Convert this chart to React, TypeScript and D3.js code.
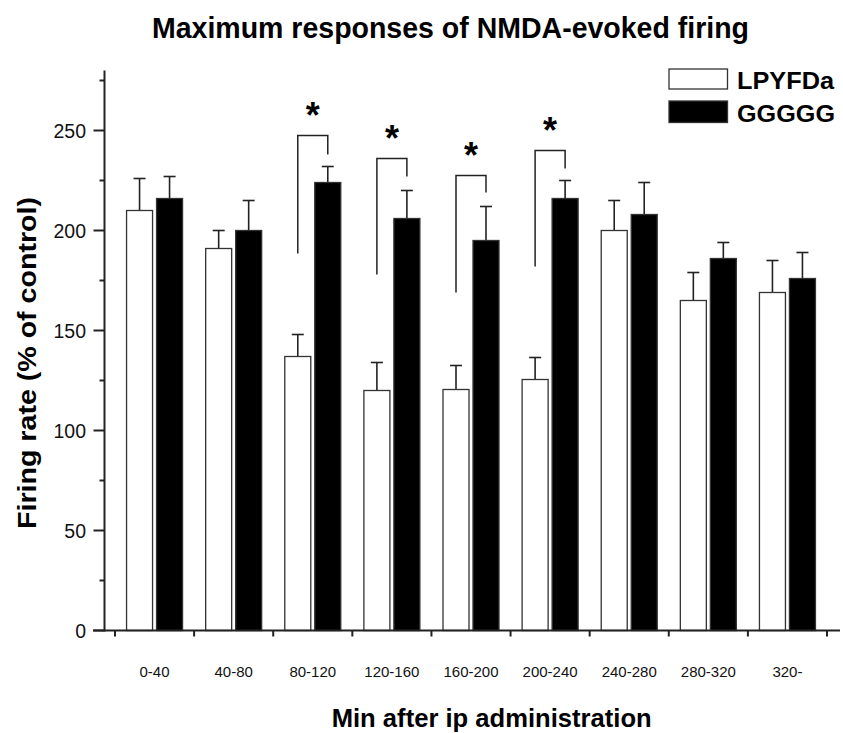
import React from "react";
import * as d3 from "d3";

// Time windows after ip administration (min)
const categories = ["0-40", "40-80", "80-120", "120-160", "160-200", "200-240", "240-280", "280-320", "320-"];
const seriesNames = ["LPYFDa", "GGGGG"];

// Mean firing rate (% of control) and SEM for each peptide
const lpyfdaMean = [210, 191, 137, 120, 120.5, 125.5, 200, 165, 169];
const lpyfdaSem = [16, 9, 11, 14, 12, 11, 15, 14, 16];
const gggggMean = [216, 200, 224, 206, 195, 216, 208, 186, 176];
const gggggSem = [11, 15, 8, 14, 17, 9, 16, 8, 13];

// Significance brackets (group index, bracket top, left leg end, right leg end)
const sigGroups = [2, 3, 4, 5];
const sigTop = [247.5, 236, 227.5, 240];
const sigLeftEnd = [188.5, 178, 169, 182];
const sigRightEnd = [238, 227, 219, 231];

const yMajorTicks = [0, 50, 100, 150, 200, 250];
const yMinorTicks = [25, 75, 125, 175, 225, 275];

const W = 843;
const H = 733;
const FONT = "'Liberation Sans', Arial, Helvetica, sans-serif";
const INK = "#222";

export default function App() {
  const y = d3.scaleLinear().domain([0, 280]).range([630.5, 70.5]);
  const x = d3.scaleBand<string>().domain(categories).range([115, 827]).paddingInner(0).paddingOuter(0);
  const bw = x.bandwidth();
  const sub = d3
    .scaleBand<string>()
    .domain(seriesNames)
    .range([bw / 2 - 28, bw / 2 + 28])
    .paddingInner(0.1333);
  const barW = sub.bandwidth();
  const axisX = 104.5;
  const axisY = y(0);

  const means = [lpyfdaMean, gggggMean];
  const sems = [lpyfdaSem, gggggSem];
  const fills = ["#fff", "#000"];

  const bars: React.ReactNode[] = [];
  categories.forEach((c, i) => {
    seriesNames.forEach((s, k) => {
      const x0 = (x(c) as number) + (sub(s) as number);
      const cx = x0 + barW / 2;
      const m = means[k][i];
      const e = sems[k][i];
      bars.push(
        <g key={`${c}-${s}`}>
          <line x1={cx} x2={cx} y1={y(m)} y2={y(m + e)} stroke={INK} strokeWidth={1.6} />
          <line x1={cx - 6} x2={cx + 6} y1={y(m + e)} y2={y(m + e)} stroke={INK} strokeWidth={1.6} />
          <rect x={x0} y={y(m)} width={barW} height={axisY - y(m)} fill={fills[k]} stroke="#333" strokeWidth={1.3} />
        </g>
      );
    });
  });

  const brackets = sigGroups.map((gi, j) => {
    const c = categories[gi];
    const lx = (x(c) as number) + (sub(seriesNames[0]) as number) + barW / 2;
    const rx = (x(c) as number) + (sub(seriesNames[1]) as number) + barW / 2;
    const d = `M${lx},${y(sigLeftEnd[j])}V${y(sigTop[j])}H${rx}V${y(sigRightEnd[j])}`;
    return (
      <g key={`sig-${c}`}>
        <path d={d} fill="none" stroke={INK} strokeWidth={1.5} />
        <text
          x={(lx + rx) / 2}
          y={y(sigTop[j]) - 8}
          textAnchor="middle"
          fontFamily={FONT}
          fontWeight="bold"
          fontSize={36}
          fill="#000"
        >
          *
        </text>
      </g>
    );
  });

  return (
    <svg width={W} height={H} style={{ position: "absolute", left: 0, top: 0, background: "#fff" }}>
      <rect width={W} height={H} fill="#fff" />
      {/* title */}
      <text x={450.5} y={38} textAnchor="middle" fontFamily={FONT} fontWeight="bold" fontSize={29.5} textLength={597} lengthAdjust="spacingAndGlyphs">
        Maximum responses of NMDA-evoked firing
      </text>

      {bars}
      {brackets}

      {/* y axis */}
      <line x1={axisX} x2={axisX} y1={y(280)} y2={axisY + 1} stroke={INK} strokeWidth={2} />
      {yMajorTicks.map((t) => (
        <g key={`ym-${t}`}>
          <line x1={axisX - 11} x2={axisX} y1={y(t)} y2={y(t)} stroke={INK} strokeWidth={2} />
          <text x={86} y={y(t)} dy="0.36em" textAnchor="end" fontFamily={FONT} fontSize={19.5} fill="#111">
            {t}
          </text>
        </g>
      ))}
      {yMinorTicks.map((t) => (
        <line key={`yn-${t}`} x1={axisX - 5} x2={axisX} y1={y(t)} y2={y(t)} stroke={INK} strokeWidth={2} />
      ))}

      {/* x axis */}
      <line x1={93} x2={840} y1={axisY} y2={axisY} stroke={INK} strokeWidth={2} />
      {[...categories.map((c) => x(c) as number), (x(categories[categories.length - 1]) as number) + bw].map((px, i) => (
        <line key={`xt-${i}`} x1={px} x2={px} y1={axisY} y2={axisY + 6} stroke={INK} strokeWidth={2} />
      ))}
      {categories.map((c) => (
        <text key={`xl-${c}`} x={(x(c) as number) + bw / 2} y={677} textAnchor="middle" fontFamily={FONT} fontSize={15} fill="#111">
          {c}
        </text>
      ))}

      {/* axis titles */}
      <text x={491.7} y={727} textAnchor="middle" fontFamily={FONT} fontWeight="bold" fontSize={26} textLength={320} lengthAdjust="spacingAndGlyphs">
        Min after ip administration
      </text>
      <text
        transform="translate(36,363) rotate(-90)"
        textAnchor="middle"
        fontFamily={FONT}
        fontWeight="bold"
        fontSize={26}
        textLength={332}
        lengthAdjust="spacingAndGlyphs"
      >
        Firing rate (% of control)
      </text>

      {/* legend */}
      {seriesNames.map((s, k) => (
        <g key={`lg-${s}`}>
          <rect x={669} y={k === 0 ? 69 : 101} width={58.5} height={k === 0 ? 20 : 21.5} fill={fills[k]} stroke="#333" strokeWidth={1.3} />
          <text x={737} y={k === 0 ? 89.3 : 122} fontFamily={FONT} fontWeight="bold" fontSize={24} textLength={k === 0 ? 97 : 98} lengthAdjust="spacingAndGlyphs">
            {s}
          </text>
        </g>
      ))}
    </svg>
  );
}
